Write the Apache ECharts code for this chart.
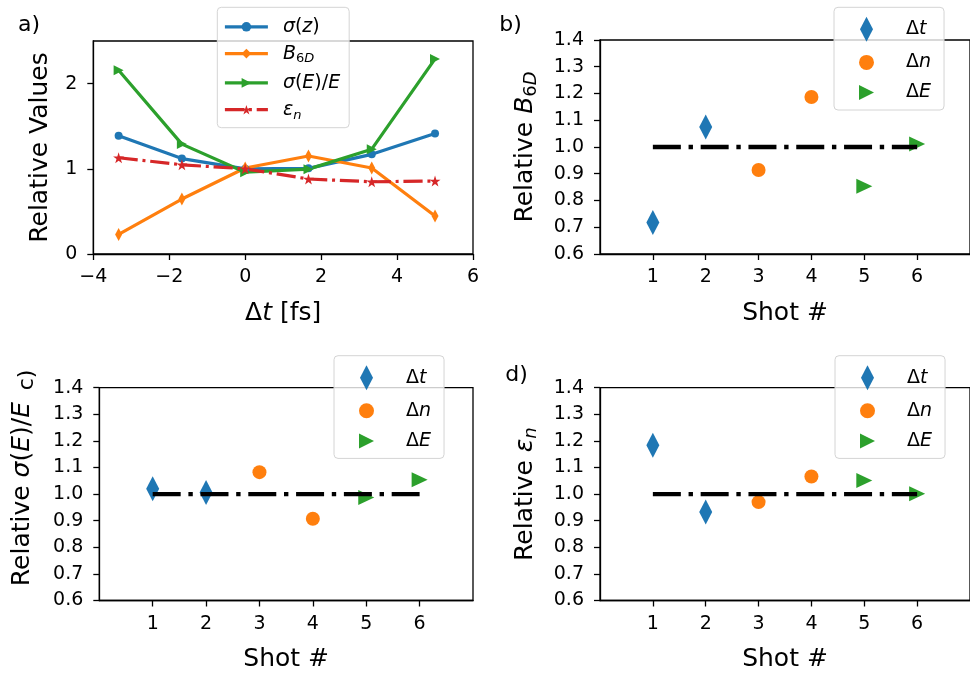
<!DOCTYPE html>
<html>
<head>
<meta charset="utf-8">
<script src="https://cdn.jsdelivr.net/npm/echarts@6/dist/echarts.min.js"></script>
<style>
  html, body { margin: 0; padding: 0; background: #ffffff; }
  #chart { width: 970px; height: 673px; }
</style>
</head>
<body>
<div id="chart"></div>
<script>
// ---- Panel a: relative beam quantities vs. timing offset ----
const dtFs      = [-3.333, -1.667, 0, 1.667, 3.333, 5];
const sigmaZ    = [1.387, 1.12, 1.0, 1.005, 1.17, 1.414];
const b6d       = [0.23, 0.645, 1.01, 1.15, 1.01, 0.445];
const sigmaEoE  = [2.157, 1.29, 0.96, 0.996, 1.23, 2.29];
const emitN     = [1.13, 1.047, 1.0, 0.88, 0.848, 0.856];
const dtTicks   = [-4, -2, 0, 2, 4, 6];
const relTicks  = [0, 1, 2];

// ---- Panels b-d: per-shot relative values ----
const shotsDt = [1, 2];
const shotsDn = [3, 4];
const shotsDE = [5, 6];
const shotTicks = [1, 2, 3, 4, 5, 6];
const ratioTicks = [0.6, 0.7, 0.8, 0.9, 1.0, 1.1, 1.2, 1.3, 1.4];
const refShots = [1, 6];
const refLevel = [1, 1];

const bDt = [0.718, 1.075], bDn = [0.914, 1.187], bDE = [0.853, 1.011];
const cDt = [1.02, 1.006],  cDn = [1.0825, 0.9075], cDE = [0.9875, 1.054];
const dDt = [1.184, 0.9325], dDn = [0.97, 1.066],   dDE = [1.051, 1.001];

const BLUE = '#1f77b4', ORANGE = '#ff7f0e', GREEN = '#2ca02c', RED = '#d62728';
const FONT = 'DejaVu Sans';

const TRI_RIGHT = 'path://M0,0L10,5L0,10Z';
const THIN_DIAMOND = 'path://M6.5,0L13,12.5L6.5,25L0,12.5Z';
const STAR = 'path://M10,0L12.245,6.91L19.511,6.91L13.633,11.18L15.878,18.09L10,13.82L4.122,18.09L6.367,11.18L0.489,6.91L7.755,6.91Z';
const EMIT_DASH = [19.2, 4.8, 3, 4.8];
const CURVE_WIDTH = 3.2;

function rich(size, lh, subShift) {
  const sub = Math.round(size * 0.7);
  return {
    n:  { fontFamily: FONT, fontSize: size, lineHeight: lh, color: '#000' },
    i:  { fontFamily: FONT, fontSize: size, lineHeight: lh, fontStyle: 'italic', color: '#000' },
    s:  { fontFamily: FONT, fontSize: sub, lineHeight: lh - 2 * subShift, verticalAlign: 'bottom', color: '#000' },
    si: { fontFamily: FONT, fontSize: sub, lineHeight: lh - 2 * subShift, verticalAlign: 'bottom', fontStyle: 'italic', color: '#000' }
  };
}

const lineLabels = {
  sz:  '{i|σ}{n|(}{i|z}{n|)}',
  b6:  '{i|B}{s|6}{si|D}',
  se:  '{i|σ}{n|(}{i|E}{n|)/}{i|E}',
  en:  '{i|ε}{si|n}'
};
const shotLabels = {
  dt: '{n|Δ}{i|t}',
  dn: '{n|Δ}{i|n}',
  dE: '{n|Δ}{i|E}'
};

const grids = [
  { left: 93.3, top: 41, width: 379.7, height: 213 },
  { left: 600, top: 40, width: 373.3, height: 214 },
  { left: 99.3, top: 387.7, width: 373.7, height: 213.3 },
  { left: 600, top: 387.7, width: 373.3, height: 213.3 }
].map(g => Object.assign({ show: true, borderColor: '#000', borderWidth: 1.3, backgroundColor: 'transparent' }, g));

const axisCommon = {
  axisLine: { show: true, onZero: false, lineStyle: { color: '#000', width: 1.3 } },
  axisTick: { show: true, length: 6, lineStyle: { color: '#000', width: 1.3 } },
  splitLine: { show: false },
  nameLocation: 'middle',
  nameTextStyle: { rich: rich(25, 30, 3) }
};

function xAxisShot(gi) {
  return Object.assign({}, axisCommon, {
    type: 'value', gridIndex: gi, min: 0, max: 7,
    name: '{n|Shot #}', nameGap: 44,
    axisTick: Object.assign({}, axisCommon.axisTick, { customValues: shotTicks }),
    axisLabel: { customValues: shotTicks, fontFamily: FONT, fontSize: 19, color: '#000', margin: 14 }
  });
}
function yAxisRatio(gi, name, gap) {
  return Object.assign({}, axisCommon, {
    type: 'value', gridIndex: gi, min: 0.6, max: 1.4,
    name: name, nameGap: gap,
    axisTick: Object.assign({}, axisCommon.axisTick, { customValues: ratioTicks }),
    axisLabel: { customValues: ratioTicks, fontFamily: FONT, fontSize: 19, color: '#000', margin: 16,
                 formatter: v => v.toFixed(1) }
  });
}

const xAxes = [
  Object.assign({}, axisCommon, {
    type: 'value', gridIndex: 0, min: -4, max: 6,
    name: '{n|Δ}{i|t}{n| [fs]}', nameGap: 44,
    axisTick: Object.assign({}, axisCommon.axisTick, { customValues: dtTicks }),
    axisLabel: { customValues: dtTicks, fontFamily: FONT, fontSize: 19, color: '#000', margin: 14,
                 formatter: v => (v < 0 ? '\u2212' + Math.abs(v) : String(v)) }
  }),
  xAxisShot(1), xAxisShot(2), xAxisShot(3)
];
const yAxes = [
  Object.assign({}, axisCommon, {
    type: 'value', gridIndex: 0, min: 0, max: 2.5,
    name: '{n|Relative Values}', nameGap: 38,
    axisTick: Object.assign({}, axisCommon.axisTick, { customValues: relTicks }),
    axisLabel: { customValues: relTicks, fontFamily: FONT, fontSize: 19, color: '#000', margin: 16 }
  }),
  yAxisRatio(1, '{n|Relative }{i|B}{s|6}{si|D}', 60),
  yAxisRatio(2, '{n|Relative }{i|σ}{n|(}{i|E}{n|)/}{i|E}', 62),
  yAxisRatio(3, '{n|Relative }{i|ε}{si|n}', 60)
];

const zip = (xs, ys) => xs.map((x, k) => [x, ys[k]]);

function curve(id, xs, ys, color, symbol, size, dash) {
  return {
    type: 'line', name: id, xAxisIndex: 0, yAxisIndex: 0,
    data: zip(xs, ys), color: color,
    symbol: symbol, symbolSize: size, showSymbol: true,
    lineStyle: { color: color, width: CURVE_WIDTH, type: dash || 'solid', cap: 'butt' },
    itemStyle: { color: color, opacity: 1 }, emphasis: { disabled: true }
  };
}

function shotPanel(gi, tag, dt, dn, dE) {
  return [
    { type: 'scatter', name: 'dt_' + tag, xAxisIndex: gi, yAxisIndex: gi, data: zip(shotsDt, dt),
      symbol: THIN_DIAMOND, symbolSize: [13, 25], itemStyle: { color: BLUE, opacity: 1 } },
    { type: 'scatter', name: 'dn_' + tag, xAxisIndex: gi, yAxisIndex: gi, data: zip(shotsDn, dn),
      symbol: 'circle', symbolSize: 14, itemStyle: { color: ORANGE, opacity: 1 } },
    { type: 'scatter', name: 'dE_' + tag, xAxisIndex: gi, yAxisIndex: gi, data: zip(shotsDE, dE),
      symbol: TRI_RIGHT, symbolSize: [16, 15], itemStyle: { color: GREEN, opacity: 1 } },
    { type: 'line', name: 'ref_' + tag, xAxisIndex: gi, yAxisIndex: gi, data: zip(refShots, refLevel),
      symbol: 'none', z: 5,
      lineStyle: { color: '#000', width: 4.4, type: [28, 7.7, 4.4, 7.7], cap: 'butt' } }
  ];
}

const series = [
  curve('sz', dtFs, sigmaZ, BLUE, 'circle', 8),
  curve('b6', dtFs, b6d, ORANGE, THIN_DIAMOND, [7, 13]),
  curve('se', dtFs, sigmaEoE, GREEN, TRI_RIGHT, [10, 10]),
  curve('en', dtFs, emitN, RED, STAR, [11, 11], EMIT_DASH)
].concat(
  shotPanel(1, 'b', bDt, bDn, bDE),
  shotPanel(2, 'c', cDt, cDn, cDE),
  shotPanel(3, 'd', dDt, dDn, dDE)
);

const legendFrame = {
  orient: 'vertical', selectedMode: false,
  backgroundColor: 'rgba(255,255,255,0.8)',
  borderColor: '#d4d4d4', borderWidth: 1, borderRadius: 4
};

function shotLegend(tag, left, top) {
  return Object.assign({}, legendFrame, {
    left: left, top: top, padding: [9.5, 13, 8, 25],
    itemWidth: 15, itemHeight: 25, itemGap: 11.1,
    itemStyle: { opacity: 1 },
    data: ['dt_' + tag, 'dn_' + tag, 'dE_' + tag],
    formatter: name => shotLabels[name.split('_')[0]],
    textStyle: { padding: [0, 0, 0, 27], rich: rich(19, 25, 3) }
  });
}

const legends = [
  Object.assign({}, legendFrame, {
    left: 217.3, top: 7.3, padding: [10, 9, 6, 6],
    itemWidth: 43, itemHeight: 12, itemGap: 7.8,
    lineStyle: { width: CURVE_WIDTH },
    data: [
      { name: 'sz', lineStyle: { width: CURVE_WIDTH, type: 'solid' } },
      { name: 'b6', lineStyle: { width: CURVE_WIDTH, type: 'solid' } },
      { name: 'se', lineStyle: { width: CURVE_WIDTH, type: 'solid' } },
      { name: 'en', lineStyle: { width: CURVE_WIDTH, type: EMIT_DASH } }
    ],
    formatter: name => lineLabels[name],
    textStyle: { padding: [0, 0, 0, 10], rich: rich(19, 24, 3) }
  }),
  shotLegend('b', 834, 7.3),
  shotLegend('c', 334, 355.7),
  shotLegend('d', 835, 355.7)
];

const panelTag = (text, x, y, rot) => ({
  type: 'text', x: x, y: y, rotation: rot || 0, z: 100,
  style: { text: text, font: '22px "DejaVu Sans"', fill: '#000', align: 'center', verticalAlign: 'middle' }
});

const chart = echarts.init(document.getElementById('chart'), null, { renderer: 'canvas' });
chart.setOption({
  animation: false,
  backgroundColor: '#ffffff',
  grid: grids,
  xAxis: xAxes,
  yAxis: yAxes,
  legend: legends,
  series: series,
  graphic: [
    panelTag('a)', 29, 25),
    panelTag('b)', 510.5, 25),
    panelTag('c)', 27.5, 380, Math.PI / 2),
    panelTag('d)', 516.5, 375)
  ]
});
</script>
</body>
</html>
